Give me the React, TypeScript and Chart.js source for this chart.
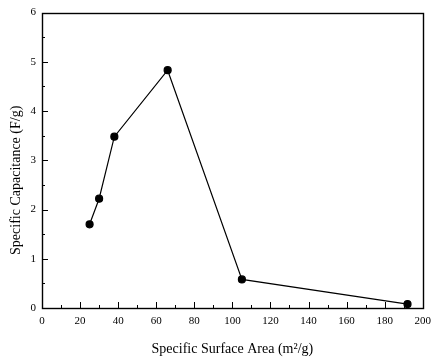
import React, { useEffect, useRef } from "react";
import { Chart, registerables } from "chart.js";
Chart.register(...registerables);

const surfaceArea = [25, 30, 38, 66, 105, 192];
const capacitance = [1.7, 2.22, 3.48, 4.83, 0.58, 0.08];
const xMajorTicks = [0, 20, 40, 60, 80, 100, 120, 140, 160, 180, 200];
const yMajorTicks = [0, 1, 2, 3, 4, 5, 6];
const xTitle = "Specific Surface Area (m\u00B2/g)";
const yTitle = "Specific Capacitance (F/g)";
const FAMILY = "'Liberation Serif', 'Times New Roman', serif";

const innerTicks = {
  id: "innerTicks",
  afterDatasetsDraw(chart: any) {
    const { ctx, chartArea } = chart;
    const xs = chart.scales.x;
    const ys = chart.scales.y;
    ctx.save();
    ctx.strokeStyle = "#000";
    ctx.lineWidth = 1;
    ctx.beginPath();
    for (let v = 0; v <= 200; v += 10) {
      const px = Math.round(xs.getPixelForValue(v)) + 0.5;
      const len = v % 20 === 0 ? 6 : 3;
      ctx.moveTo(px, chartArea.bottom);
      ctx.lineTo(px, chartArea.bottom - len);
    }
    for (let v = 0; v <= 6; v += 0.5) {
      const py = Math.round(ys.getPixelForValue(v)) + 0.5;
      const len = Math.abs(v - Math.round(v)) < 1e-9 ? 6 : 3;
      ctx.moveTo(chartArea.left, py);
      ctx.lineTo(chartArea.left + len, py);
    }
    ctx.stroke();
    ctx.lineWidth = 1.4;
    ctx.strokeRect(
      Math.round(chartArea.left) + 0.5,
      Math.round(chartArea.top) + 0.5,
      Math.round(chartArea.right - chartArea.left),
      Math.round(chartArea.bottom - chartArea.top)
    );
    // y-axis title, placed slightly below the plot's vertical centre as in the reference
    ctx.translate(16, (chartArea.top + chartArea.bottom) / 2 + 20);
    ctx.rotate(-Math.PI / 2);
    ctx.font = `14px ${FAMILY}`;
    ctx.fillStyle = "#000";
    ctx.textAlign = "center";
    ctx.textBaseline = "middle";
    ctx.fillText(yTitle, 0, 0);
    ctx.restore();
  },
};

export default function App() {
  const ref = useRef<HTMLCanvasElement>(null);
  useEffect(() => {
    document.body.style.margin = "0";
    const font = { family: FAMILY, size: 11 };
    const titleFont = { family: FAMILY, size: 14 };
    const chart = new Chart(ref.current!, {
      type: "scatter",
      data: {
        datasets: [
          {
            data: surfaceArea.map((x, i) => ({ x, y: capacitance[i] })),
            showLine: true,
            borderColor: "#000",
            backgroundColor: "#000",
            borderWidth: 1.2,
            pointRadius: 3.5,
            pointHoverRadius: 3.5,
          },
        ],
      },
      options: {
        animation: false,
        responsive: false,
        maintainAspectRatio: false,
        plugins: { legend: { display: false }, tooltip: { enabled: false } },
        layout: { padding: { top: 11, right: 7, left: 0, bottom: 0 } },
        scales: {
          x: {
            type: "linear",
            min: 0,
            max: 200,
            afterBuildTicks: (s: any) => {
              s.ticks = xMajorTicks.map((v) => ({ value: v }));
            },
            afterFit: (s: any) => {
              s.height = 52;
            },
            grid: { display: false, drawTicks: false },
            border: { display: false },
            ticks: { color: "#000", font, padding: 7, maxRotation: 0 },
            title: {
              display: true,
              text: xTitle,
              color: "#000",
              font: titleFont,
              padding: { top: 0, bottom: 2 },
            },
          },
          y: {
            type: "linear",
            min: 0,
            max: 6,
            afterBuildTicks: (s: any) => {
              s.ticks = yMajorTicks.map((v) => ({ value: v }));
            },
            afterFit: (s: any) => {
              s.width = 42;
            },
            grid: { display: false, drawTicks: false },
            border: { display: false },
            ticks: { color: "#000", font, padding: 6 },
            title: { display: false },
          },
        },
      },
      plugins: [innerTicks],
    });
    return () => chart.destroy();
  }, []);
  return (
    <div style={{ width: 438, height: 360, background: "#fff" }}>
      <canvas ref={ref} width={438} height={360} style={{ display: "block" }} />
    </div>
  );
}
